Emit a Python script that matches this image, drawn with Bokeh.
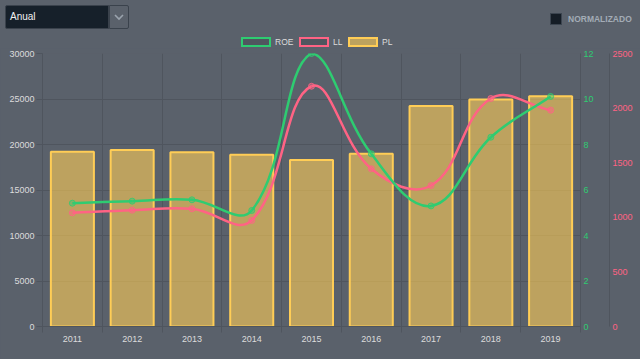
import math
from bokeh.plotting import figure
from bokeh.models import Range1d, LinearAxis, FixedTicker, Div, ColumnDataSource
from bokeh.layouts import column
from bokeh.embed import file_html
from bokeh.resources import INLINE

# ---------------- data ----------------
years = ["2011", "2012", "2013", "2014", "2015", "2016", "2017", "2018", "2019"]
pl = [19200, 19400, 19150, 18870, 18300, 18980, 24240, 24950, 25300]
roe = [5.42, 5.51, 5.57, 5.10, 12.0, 7.59, 5.30, 8.32, 10.11]
ll = [1041, 1065, 1078, 971, 2200, 1444, 1291, 2088, 1981]
pl_ticks = [0, 5000, 10000, 15000, 20000, 25000, 30000]
roe_ticks = [0, 2, 4, 6, 8, 10, 12]
ll_ticks = [0, 500, 1000, 1500, 2000, 2500]
series_names = ["ROE", "LL", "PL"]

BG = "#5a616b"
GRID = "#4f555e"
GREEN = "#2ecc71"
PINK = "#ff6384"
YEL = "#ffcd56"
BARFILL = "#bda25e"
BOXFILL = "#50565f"
TXT = "#dcdcdc"
FONT = "Liberation Sans"

W, H_HEAD, H_FIG = 640, 48, 311

# ---------------- header (dropdown, checkbox, legend) ----------------
chev = ('<svg width="10" height="7" viewBox="0 0 10 7" style="display:block;margin:8px auto 0 auto">'
        '<polyline points="1,1 5,5 9,1" fill="none" stroke="#9aa3ad" stroke-width="1.6"/></svg>')
leg_cols = {"ROE": (GREEN, BOXFILL), "LL": (PINK, BOXFILL), "PL": (YEL, BARFILL)}
leg_box_x = {"ROE": 241, "LL": 299, "PL": 348}
legend_html = ""
for name in series_names:
    lc, fc = leg_cols[name]
    x0 = leg_box_x[name]
    legend_html += (f'<div style="position:absolute;left:{x0}px;top:37px;width:30px;height:10px;box-sizing:border-box;'
                    f'background:{fc};border:2px solid {lc};"></div>'
                    f'<div style="position:absolute;left:{x0 + 34}px;top:36px;height:12px;line-height:12px;'
                    f'font-size:8.5px;color:{TXT};">{name}</div>')

head_html = f"""
<div style="position:relative;width:{W}px;height:{H_HEAD}px;background:{BG};font-family:'{FONT}',Arial,sans-serif;">
  <div style="position:absolute;left:5px;top:5px;width:104px;height:24px;box-sizing:border-box;background:#16202a;
       border:1px solid #3a424c;border-radius:2px 0 0 2px;color:#f0f0f0;font-size:10px;line-height:22px;padding-left:4px;">Anual</div>
  <div style="position:absolute;left:109px;top:5px;width:20px;height:24px;box-sizing:border-box;border:1px solid #3a424c;
       border-radius:0 2px 2px 0;">{chev}</div>
  <div style="position:absolute;left:550px;top:13px;width:12px;height:12px;box-sizing:border-box;background:#151d26;
       border:1px solid #3c4550;"></div>
  <div style="position:absolute;left:568px;top:13px;height:12px;line-height:12px;font-size:8.5px;font-weight:bold;
       color:#a3acb6;">NORMALIZADO</div>
  {legend_html}
</div>
"""
header = Div(text=head_html, width=W, height=H_HEAD, margin=(0, 0, 0, 0))

# ---------------- figure ----------------
n = len(years)
xs = list(range(n))
p = figure(width=W, height=H_FIG, output_backend="svg", toolbar_location=None,
           x_range=Range1d(-0.5, n - 0.5), y_range=Range1d(pl_ticks[0], pl_ticks[-1]),
           min_border_left=42, min_border_right=60, min_border_top=5, min_border_bottom=33,
           background_fill_color=BG, border_fill_color=BG, outline_line_color=None)
p.extra_y_ranges = {"roe": Range1d(roe_ticks[0], roe_ticks[-1]),
                    "ll": Range1d(ll_ticks[0], ll_ticks[-1])}

# grids
p.xgrid.ticker = FixedTicker(ticks=[i - 0.5 for i in range(n + 1)])
p.xgrid.grid_line_color = GRID
p.ygrid.grid_line_color = GRID

# x axis
xa = p.xaxis[0]
xa.ticker = FixedTicker(ticks=xs, minor_ticks=[i - 0.5 for i in range(n + 1)])
xa.major_label_overrides = {i: y for i, y in enumerate(years)}
xa.major_tick_out = 0
xa.major_tick_in = 0
xa.minor_tick_out = 6
xa.minor_tick_in = 0
xa.minor_tick_line_color = GRID
xa.axis_line_color = GRID
xa.major_label_standoff = 3
xa.major_label_text_font = FONT
xa.major_label_text_font_size = "9px"
xa.major_label_text_color = TXT

# left axis
ya = p.yaxis[0]
ya.ticker = FixedTicker(ticks=pl_ticks)
ya.major_tick_out = 6
ya.major_tick_in = 0
ya.minor_tick_out = 0
ya.minor_tick_in = 0
ya.major_tick_line_color = GRID
ya.axis_line_color = GRID
ya.major_label_standoff = 2
ya.major_label_text_font = FONT
ya.major_label_text_font_size = "9px"
ya.major_label_text_color = TXT

# right axes
ax_roe = LinearAxis(y_range_name="roe", ticker=FixedTicker(ticks=roe_ticks))
ax_ll = LinearAxis(y_range_name="ll", ticker=FixedTicker(ticks=ll_ticks))
for ax, col in ((ax_roe, GREEN), (ax_ll, PINK)):
    ax.major_tick_out = 0
    ax.major_tick_in = 0
    ax.minor_tick_out = 0
    ax.minor_tick_in = 0
    ax.axis_line_color = GRID
    ax.major_label_text_font = FONT
    ax.major_label_text_font_size = "9px"
    ax.major_label_text_color = col
ax_roe.major_label_standoff = 3
ax_roe.axis_label = " "
ax_roe.axis_label_text_font_size = "6px"
ax_roe.axis_label_standoff = 4
ax_ll.major_label_standoff = 3
p.add_layout(ax_roe, "right")
p.add_layout(ax_ll, "right")

# bars
p.vbar(x=xs, top=pl, width=0.72, bottom=0, fill_color=YEL, fill_alpha=0.6,
       line_color=YEL, line_width=2)


# smooth curves (Chart.js style cardinal spline, tension 0.4)
def spline(vals, rng, sx, sy, t=0.4):
    px = [x * sx for x in xs]
    py = [v * sy for v in vals]
    lo, hi = rng[0] * sy, rng[1] * sy
    prev_c, next_c = [], []
    for i in range(n):
        a = i - 1 if i > 0 else i
        b = i + 1 if i < n - 1 else i
        d01 = math.hypot(px[i] - px[a], py[i] - py[a])
        d12 = math.hypot(px[b] - px[i], py[b] - py[i])
        tot = d01 + d12
        fa = t * (d01 / tot if tot else 0)
        fb = t * (d12 / tot if tot else 0)
        dx, dy = px[b] - px[a], py[b] - py[a]
        cap = lambda v: min(max(v, lo), hi)
        prev_c.append(((px[i] - fa * dx) / sx, cap(py[i] - fa * dy) / sy))
        next_c.append(((px[i] + fb * dx) / sx, cap(py[i] + fb * dy) / sy))
    return dict(x0=xs[:-1], y0=vals[:-1], x1=xs[1:], y1=vals[1:],
                cx0=[c[0] for c in next_c[:-1]], cy0=[c[1] for c in next_c[:-1]],
                cx1=[c[0] for c in prev_c[1:]], cy1=[c[1] for c in prev_c[1:]])


FRAME_W, FRAME_H = 538.0, 273.0
sxp = FRAME_W / n
for vals, ticks, rname, col in ((ll, ll_ticks, "ll", PINK), (roe, roe_ticks, "roe", GREEN)):
    sy = FRAME_H / (ticks[-1] - ticks[0])
    src = ColumnDataSource(spline(vals, (ticks[0], ticks[-1]), sxp, sy))
    p.bezier(x0="x0", y0="y0", x1="x1", y1="y1", cx0="cx0", cy0="cy0", cx1="cx1", cy1="cy1",
             source=src, line_color=col, line_width=2.5, y_range_name=rname)
    p.scatter(x=xs, y=vals, size=6, fill_color=col, fill_alpha=0.45, line_color=col,
              line_alpha=0.8, line_width=1, y_range_name=rname)

page = column(header, p, spacing=0, margin=(0, 0, 0, 0))
tmpl = "{% block postamble %}<style>html,body{background:" + BG + ";}</style>{% endblock %}"
open("out.html", "w").write(file_html(page, INLINE, template=tmpl))
